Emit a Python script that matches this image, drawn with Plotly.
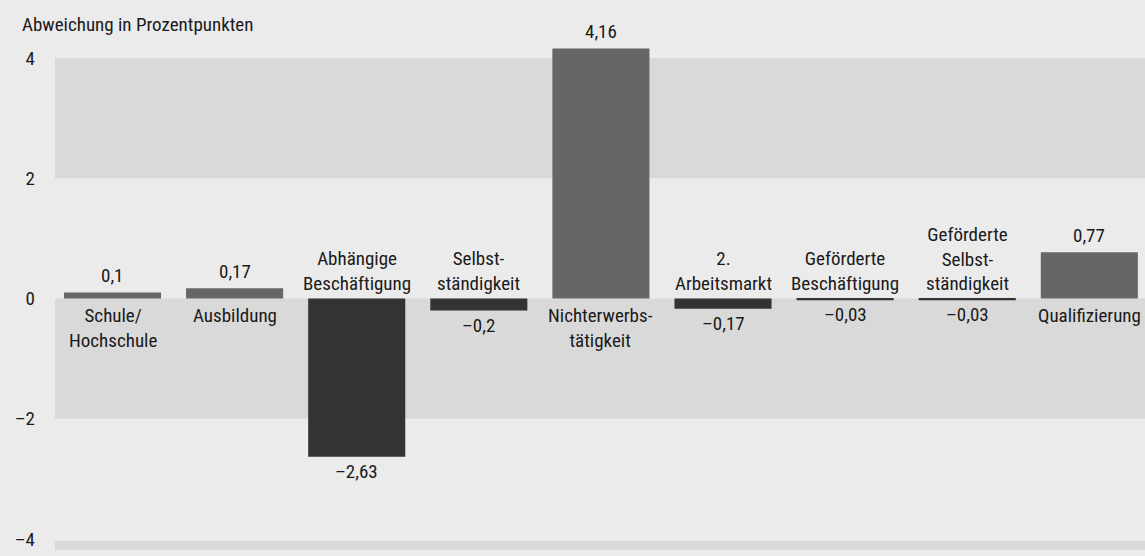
import plotly.graph_objects as go

categories = ["Schule/<br>Hochschule", "Ausbildung", "Abhängige<br>Beschäftigung",
              "Selbst-<br>ständigkeit", "Nichterwerbs-<br>tätigkeit", "2.<br>Arbeitsmarkt",
              "Geförderte<br>Beschäftigung", "Geförderte<br>Selbst-<br>ständigkeit",
              "Qualifizierung"]
values = [0.1, 0.17, -2.63, -0.2, 4.16, -0.17, -0.03, -0.03, 0.77]
tick_vals = [-4, -2, 0, 2, 4]
tick_text = ["–4", "–2", "0", "2", "4"]
y_title = "Abweichung in Prozentpunkten"

FONT = "Liberation Sans Narrow, Arial Narrow, Roboto Condensed, DejaVu Sans Condensed, sans-serif"
TXT = "#1a1a1a"
POS, NEG = "#666666", "#333333"
BG, BAND = "#ebebeb", "#d9d9d9"
FS = 19

def fmt(v):
    s = ("%g" % abs(v)).replace(".", ",")
    return ("–" + s) if v < 0 else s

xs = list(range(len(categories)))
fig = go.Figure(go.Bar(
    x=xs, y=values, width=0.795,
    marker=dict(color=[POS if v >= 0 else NEG for v in values], line=dict(width=0)),
    hoverinfo="skip",
))

# bands
for y0, y1 in [(2, 4), (-2, 0), (-4.035, -4.5)]:
    fig.add_shape(type="rect", xref="paper", yref="y", x0=0, x1=1, y0=y0, y1=y1,
                  fillcolor=BAND, line=dict(width=0), layer="below")

ann = []
for x, c, v in zip(xs, categories, values):
    if v >= 0:
        ann.append(dict(x=x, y=v, text=fmt(v), yanchor="bottom", yshift=3, showarrow=False))
        ann.append(dict(x=x, y=0, text=c, yanchor="top", yshift=-3, showarrow=False))
    else:
        ann.append(dict(x=x, y=v, text=fmt(v), yanchor="top", yshift=-1, showarrow=False))
        ann.append(dict(x=x, y=0, text=c, yanchor="bottom", yshift=2, showarrow=False))
for a in ann:
    a.update(xref="x", yref="y", xanchor="center", font=dict(family=FONT, size=FS, color=TXT))
ann.append(dict(xref="paper", yref="paper", x=0, y=1, xshift=-35, yshift=6,
                xanchor="left", yanchor="bottom", showarrow=False, text=y_title,
                font=dict(family=FONT, size=FS, color=TXT)))

fig.update_layout(
    width=1145, height=556,
    margin=dict(l=55, r=0, t=44, b=6),
    paper_bgcolor=BG, plot_bgcolor=BG,
    showlegend=False,
    annotations=ann,
    font=dict(family=FONT, size=FS, color=TXT),
    xaxis=dict(range=[-0.471, 8.456], showticklabels=False, showgrid=False,
               zeroline=False, showline=False, ticks=""),
    yaxis=dict(range=[-4.183, 4.233], tickvals=tick_vals, ticktext=tick_text,
               showgrid=False, zeroline=False, showline=False, ticks="",
               ticklabelstandoff=19, tickfont=dict(family=FONT, size=FS, color=TXT)),
)
fig.write_html("out.html", config={"displayModeBar": False},
               post_script="document.body.style.margin='0';document.body.style.background='#ebebeb';")
